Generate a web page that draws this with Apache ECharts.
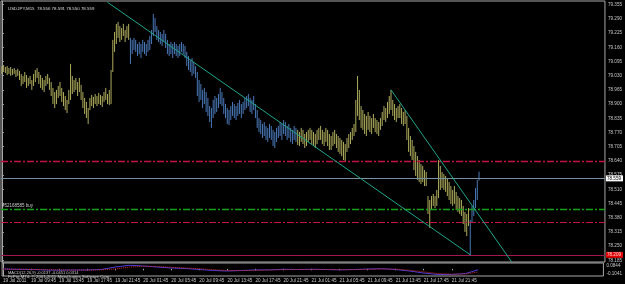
<!DOCTYPE html>
<html><head><meta charset="utf-8">
<script src="https://cdn.jsdelivr.net/npm/echarts@6/dist/echarts.min.js"></script>
<style>html,body{margin:0;padding:0;background:#000;}#c{width:625px;height:284px;}</style>
</head><body><div id="c"></div>
<script>
// ---- data (USDJPY M15 bars: high / low) ----
const highs = [
79.074,79.079,79.070,79.074,79.065,79.070,79.061,79.065,79.056,79.061,
79.052,79.038,79.029,79.047,79.033,79.020,79.029,79.010,79.038,79.056,
79.065,79.047,79.033,79.020,79.010,79.029,79.038,79.020,79.001,78.974,
78.955,78.965,78.983,79.001,78.974,78.955,78.937,78.919,78.965,79.084,
79.029,79.010,79.020,79.001,79.020,78.988,78.955,78.928,78.910,78.882,
78.928,78.942,78.933,78.946,78.937,78.951,78.942,78.937,78.955,78.974,
78.946,78.965,79.056,79.194,79.230,79.267,79.276,79.257,79.248,79.267,
79.239,79.257,79.267,79.203,79.194,79.203,79.194,79.175,79.184,79.175,
79.194,79.184,79.175,79.194,79.212,79.239,79.312,79.294,79.257,79.239,
79.230,79.221,79.239,79.221,79.194,79.175,79.184,79.175,79.184,79.175,
79.166,79.175,79.184,79.175,79.166,79.139,79.120,79.102,79.111,79.093,
79.074,79.047,79.010,78.992,78.965,78.974,78.955,78.928,78.891,78.882,
78.919,78.937,78.928,78.946,78.974,78.955,78.928,78.900,78.882,78.873,
78.891,78.910,78.900,78.891,78.905,78.919,78.900,78.910,78.928,78.937,
78.946,78.928,78.919,78.937,78.900,78.873,78.836,78.827,78.809,78.818,
78.800,78.791,78.809,78.800,78.782,78.772,78.791,78.800,78.818,78.809,
78.827,78.818,78.800,78.809,78.791,78.782,78.800,78.791,78.782,78.772,
78.791,78.782,78.763,78.772,78.782,78.791,78.782,78.772,78.763,78.782,
78.791,78.800,78.782,78.772,78.791,78.782,78.763,78.754,78.772,78.782,
78.763,78.754,78.745,78.736,78.727,78.717,78.745,78.763,78.772,78.791,
78.809,78.919,79.029,78.965,78.891,78.873,78.855,78.846,78.864,78.846,
78.836,78.855,78.836,78.827,78.818,78.836,78.864,78.891,78.882,78.910,
78.937,78.965,78.919,78.900,78.882,78.891,78.900,78.882,78.864,78.873,
78.846,78.791,78.754,78.736,78.708,78.681,78.662,78.644,78.626,78.617,
78.598,78.589,78.479,78.461,78.479,78.489,78.479,78.507,78.644,78.617,
78.589,78.580,78.571,78.562,78.543,78.525,78.507,78.525,78.498,78.479,
78.470,78.461,78.434,78.406,78.397,78.424,78.370,78.434,78.461,78.516,
78.553,78.591
];
const lows = [
79.038,79.047,79.042,79.033,79.038,79.029,79.033,79.038,79.024,79.029,
79.010,78.983,78.992,79.001,78.974,78.983,78.992,78.965,78.983,79.001,
79.020,78.992,78.974,78.965,78.955,78.983,78.992,78.965,78.937,78.900,
78.882,78.900,78.928,78.937,78.910,78.891,78.873,78.859,78.900,78.919,
78.946,78.955,78.965,78.937,78.955,78.919,78.882,78.855,78.836,78.809,
78.873,78.891,78.882,78.900,78.891,78.900,78.896,78.887,78.910,78.919,
78.900,78.896,78.900,79.047,79.139,79.175,79.203,79.184,79.194,79.212,
79.184,79.203,79.194,79.084,79.129,79.148,79.139,79.120,79.129,79.111,
79.139,79.129,79.120,79.139,79.148,79.175,79.212,79.230,79.194,79.184,
79.175,79.166,79.184,79.157,79.129,79.120,79.129,79.111,79.129,79.120,
79.111,79.120,79.139,79.129,79.111,79.074,79.056,79.047,79.029,79.038,
79.020,78.937,78.910,78.919,78.882,78.900,78.864,78.846,78.818,78.791,
78.836,78.855,78.864,78.882,78.900,78.891,78.855,78.836,78.809,78.804,
78.827,78.846,78.836,78.827,78.846,78.855,78.836,78.855,78.873,78.882,
78.891,78.864,78.855,78.873,78.836,78.791,78.772,78.763,78.745,78.754,
78.736,78.727,78.745,78.736,78.708,78.699,78.727,78.745,78.754,78.736,
78.763,78.754,78.736,78.745,78.727,78.717,78.736,78.727,78.713,78.708,
78.727,78.717,78.699,78.708,78.727,78.736,78.717,78.708,78.699,78.717,
78.736,78.736,78.717,78.708,78.727,78.708,78.690,78.690,78.708,78.717,
78.699,78.681,78.672,78.662,78.644,78.635,78.681,78.699,78.717,78.736,
78.754,78.772,78.846,78.827,78.791,78.782,78.763,78.754,78.782,78.772,
78.763,78.791,78.772,78.763,78.754,78.782,78.800,78.827,78.818,78.836,
78.855,78.873,78.846,78.827,78.818,78.836,78.836,78.809,78.800,78.809,
78.736,78.681,78.662,78.644,78.598,78.571,78.553,78.543,78.534,78.543,
78.525,78.525,78.397,78.333,78.415,78.434,78.424,78.434,78.470,78.507,
78.516,78.507,78.498,78.479,78.461,78.443,78.434,78.443,78.415,78.406,
78.397,78.388,78.351,78.315,78.296,78.342,78.209,78.360,78.388,78.424,
78.461,78.550
];
const timeLabelIndex = [0,16,32,48,64,80,96,112,128,144,160,176,192,208,224,240,256];
const timeLabels = ['19 Jul 2011','19 Jul 09:45','19 Jul 13:45','19 Jul 17:45','19 Jul 21:45',
  '20 Jul 01:45','20 Jul 05:45','20 Jul 09:45','20 Jul 13:45','20 Jul 17:45','20 Jul 21:45',
  '21 Jul 01:45','21 Jul 05:45','21 Jul 09:45','21 Jul 13:45','21 Jul 17:45','21 Jul 21:45'];
const priceTicks = [78.185,78.250,78.315,78.380,78.445,78.510,78.575,78.640,78.705,78.770,
  78.835,78.900,78.965,79.030,79.095,79.160,79.225,79.290,79.355];
const macdIndex = [0,8,16,24,32,40,48,56,64,72,80,88,96,104,112,120,128,136,144,152,160,168,176,184,192,200,208,216,224,232,240,248,256,264,271];
const macdMain = [-0.003,-0.007,-0.010,-0.017,-0.020,-0.017,-0.017,-0.010,0.026,0.051,0.041,0.026,0.012,0.005,-0.010,-0.024,-0.032,-0.024,-0.017,-0.015,-0.007,-0.010,-0.007,-0.010,-0.015,-0.010,-0.003,0.002,-0.010,-0.032,-0.061,-0.082,-0.082,-0.068,-0.0137];
const macdSignal = [-0.005,-0.006,-0.008,-0.012,-0.016,-0.018,-0.018,-0.015,-0.002,0.025,0.038,0.034,0.022,0.012,0.002,-0.012,-0.024,-0.026,-0.022,-0.018,-0.012,-0.010,-0.009,-0.009,-0.012,-0.012,-0.008,-0.003,-0.005,-0.020,-0.044,-0.068,-0.078,-0.075,-0.0451];
const macdScale = [0.0844, -0.1041];
const sellLevel = 78.640, bidLevel = 78.559, buyLevel = 78.415, stopLevel = 78.364, alertLevel = 78.209;
const trendLine1 = [[60, 79.366], [266.2, 78.209]];
const trendLine2 = [[221, 78.965], [289.5, 78.178]];
const titleText = 'USDJPY,M15  78.556 78.591 78.550 78.559';
const macdText = 'MACD(12,26,9) -0.0137 -0.0451 0.0314';
const copyText = 'FxPro MT4, \u00a9 2001-2011 MetaQuotes Software Corp.';
const orderText = '#52168585 buy';

// ---- styles ----
const YELLOW = '#aeac5c', BLUE = '#4a79b9';
const colorSegments = [[0,72,YELLOW],[73,167,BLUE],[168,265,YELLOW],[266,271,BLUE]];
function barColor(i){ for (const s of colorSegments) if (i>=s[0] && i<=s[1]) return s[2]; return YELLOW; }
const AX = '#a8a8a8', TXT = '#c8c8c8', FONT = '"Liberation Sans", Arial, sans-serif';
const RED_DD = '#c01444', GREEN_DD = '#16a016';

function hLine(value, color, dash, width, label){
  return {type:'line', xAxisIndex:0, yAxisIndex:0, data:[], silent:true, color:color,
    markLine:{silent:true, symbol:['none','none'], animation:false,
      lineStyle:{color:color, type:dash, width:width, opacity:1},
      label: label || {show:false},
      data:[{yAxis:value}]}};
}

const chart = echarts.init(document.getElementById('c'), null, {renderer:'canvas'});
chart.setOption({
  backgroundColor:'#000000',
  animation:false,
  textStyle:{fontFamily:FONT},
  title:[
    {text:titleText, left:3, top:2, textStyle:{color:'#dcdcdc', fontSize:4.4, fontWeight:'normal', fontFamily:FONT}},
    {text:macdText, left:3, top:265.6, textStyle:{color:'#d0d0d0', fontSize:4, fontWeight:'normal', fontFamily:FONT}},
    {text:copyText, left:3, top:269.6, textStyle:{color:'#d0d0d0', fontSize:4.3, fontWeight:'normal', fontFamily:FONT}}
  ],
  grid:[
    {left:1, right:17, top:1, height:261, show:true, borderColor:AX, borderWidth:1, backgroundColor:'transparent'},
    {left:1, right:17, top:263, height:13, show:true, borderColor:AX, borderWidth:1, backgroundColor:'transparent'}
  ],
  xAxis:[
    {type:'value', gridIndex:0, min:-0.5, max:342.5, show:false},
    {type:'value', gridIndex:1, min:-0.5, max:342.5,
      axisLine:{show:false}, splitLine:{show:false},
      axisTick:{show:true, customValues:timeLabelIndex, length:1.5, lineStyle:{color:AX}},
      axisLabel:{customValues:timeLabelIndex, formatter:v=>timeLabels[timeLabelIndex.indexOf(v)],
        color:TXT, fontSize:4.6, align:'left', margin:1.8, fontFamily:FONT}}
  ],
  yAxis:[
    {type:'value', gridIndex:0, position:'right', min:78.1772, max:79.3719, scale:true,
      axisLine:{show:true, lineStyle:{color:AX}}, splitLine:{show:false},
      axisTick:{show:true, length:2, customValues:priceTicks, lineStyle:{color:AX}},
      axisLabel:{customValues:priceTicks, formatter:v=>v.toFixed(3), color:TXT, fontSize:4.6, margin:3, fontFamily:FONT}},
    {type:'value', gridIndex:1, position:'right', min:macdScale[1], max:macdScale[0],
      axisLine:{show:true, lineStyle:{color:AX}}, splitLine:{show:false},
      axisTick:{show:false},
      axisLabel:{customValues:macdScale, margin:3, fontFamily:FONT,
        formatter:v=> v>0 ? '{t|'+v.toFixed(4)+'}' : '{b|'+v.toFixed(4)+'}',
        rich:{t:{padding:[5,0,0,0], fontSize:4.6, color:TXT}, b:{padding:[0,0,5,0], fontSize:4.6, color:TXT}}}}
  ],
  series:[
    hLine(sellLevel, RED_DD, [7,2,2,2], 1.3),
    hLine(bidLevel, '#7890a4', 'solid', 1, {show:true, position:'end', formatter:bidLevel.toFixed(3), backgroundColor:'#ffffff', color:'#000000', fontSize:4.6, padding:[1,2,0,1], distance:1, fontFamily:FONT}),
    hLine(buyLevel, GREEN_DD, [7,2,2,2], 1.3, {show:true, position:'insideStartTop', formatter:orderText, color:TXT, fontSize:4.5, distance:1, fontFamily:FONT}),
    hLine(stopLevel, RED_DD, [7,2,2,2], 1.1),
    hLine(alertLevel, '#a0184e', 'solid', 1, {show:true, position:'end', formatter:alertLevel.toFixed(3), backgroundColor:'#e00000', color:'#ffd8d8', fontSize:4.6, padding:[1,2,0,1], distance:1, fontFamily:FONT}),
    {type:'line', xAxisIndex:0, yAxisIndex:0, data:[], silent:true,
      markLine:{silent:true, symbol:['none','none'], animation:false, label:{show:false},
        lineStyle:{color:'#1fa58a', type:'solid', width:1},
        data:[
          [{coord:trendLine1[0]},{coord:trendLine1[1]}],
          [{coord:trendLine2[0]},{coord:trendLine2[1]}]
        ]}},
    {type:'custom', xAxisIndex:0, yAxisIndex:0, clip:true, silent:true,
      data: highs.map((h,i)=>[i, h, lows[i]]),
      encode:{x:0, y:[1,2]},
      renderItem:function(params, api){
        const i = api.value(0);
        const a = api.coord([i, api.value(1)]);
        const b = api.coord([i, api.value(2)]);
        return {type:'line', shape:{x1:a[0], y1:a[1], x2:b[0], y2:b[1]}, style:{stroke:barColor(i), lineWidth:1}};
      }},
    {type:'line', xAxisIndex:1, yAxisIndex:1, symbol:'none', silent:true,
      data: macdIndex.map((x,k)=>[x, macdMain[k]]), lineStyle:{color:'#4c3fd8', width:1}},
    {type:'line', xAxisIndex:1, yAxisIndex:1, symbol:'none', silent:true,
      data: macdIndex.map((x,k)=>[x, macdSignal[k]]), lineStyle:{color:'#d02828', width:1, type:'dotted'}}
  ]
});
</script>
</body></html>
